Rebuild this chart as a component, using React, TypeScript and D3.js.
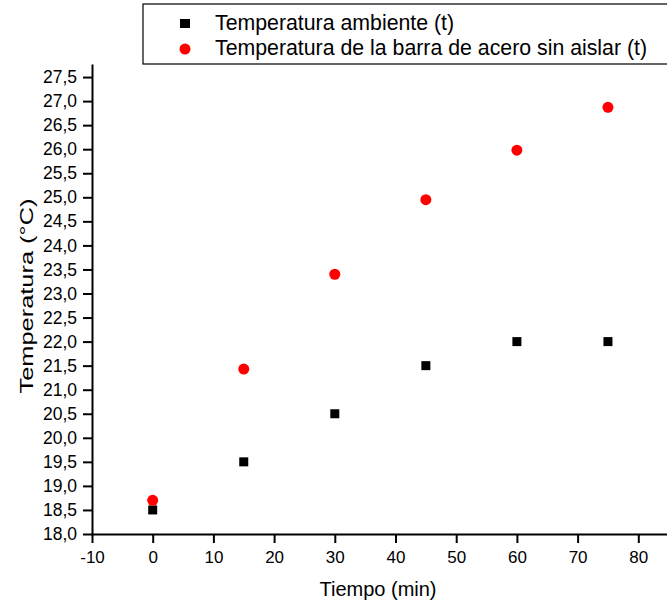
import * as d3 from "d3";
import { useEffect, useRef } from "react";

// datos
const tiempo = [0, 15, 30, 45, 60, 75];
const tempAmbiente = [18.5, 19.5, 20.5, 21.5, 22.0, 22.0];
const tempBarra = [18.7, 21.43, 23.4, 24.95, 25.98, 26.87];
const serieNombres = ["Temperatura ambiente (t)", "Temperatura de la barra de acero sin aislar (t)"];
const xTicks = [-10, 0, 10, 20, 30, 40, 50, 60, 70, 80];
const yTicks = d3.range(18, 27.51, 0.5);

export default function App() {
  const svgRef = useRef<SVGSVGElement | null>(null);
  const W = 667;
  const H = 607;
  const left = 92;
  const bottom = 534;

  function draw() {
    const svg = d3.select(svgRef.current);
    svg.selectAll("*").remove();

    const x = d3.scaleLinear([-10, 85], [left, left + 95 * 6.07]);
    const y = d3.scaleLinear([18, 27.77], [bottom, bottom - 9.77 * 48.1]);
    const fmt = (d: number) => d.toFixed(1).replace(".", ",");
    const font = "Liberation Sans, Arial, sans-serif";

    // eje x
    const gx = svg.append("g").attr("transform", `translate(0,${bottom})`);
    gx.call(d3.axisBottom(x).tickValues(d3.range(-5, 85, 10)).tickSize(5).tickFormat(() => ""));
    gx.call(d3.axisBottom(x).tickValues(xTicks).tickSize(9).tickSizeOuter(0).tickPadding(8).tickFormat((d) => String(d)));
    gx.selectAll("text").attr("font-size", 17).attr("font-family", font).attr("fill", "#000");

    // eje y
    const gy = svg.append("g").attr("transform", `translate(${left},0)`);
    gy.call(d3.axisLeft(y).tickValues(d3.range(18.25, 27.76, 0.5)).tickSize(5).tickFormat(() => ""));
    gy.call(d3.axisLeft(y).tickValues(yTicks).tickSize(9).tickSizeOuter(0).tickPadding(6).tickFormat((d) => fmt(+d)));
    gy.selectAll("text").attr("font-size", 17.5).attr("font-family", font).attr("fill", "#000");

    svg.selectAll(".domain").attr("stroke", "#000").attr("stroke-width", 2);
    svg.selectAll(".tick line").attr("stroke", "#000").attr("stroke-width", 2);

    // titulos
    svg.append("text").attr("x", 378).attr("y", 596).attr("text-anchor", "middle")
      .attr("font-size", 20).attr("font-family", font).text("Tiempo (min)");
    svg.append("text").attr("transform", `translate(33,296) rotate(-90)`).attr("text-anchor", "middle")
      .attr("font-size", 19).attr("font-family", font)
      .attr("textLength", 195).attr("lengthAdjust", "spacingAndGlyphs").text("Temperatura (°C)");

    // puntos
    svg.append("g").selectAll("rect").data(tiempo).join("rect")
      .attr("x", (d) => x(d) - 4.5).attr("y", (d, i) => y(tempAmbiente[i]) - 4.5)
      .attr("width", 9).attr("height", 9).attr("fill", "#000");
    svg.append("g").selectAll("circle").data(tiempo).join("circle")
      .attr("cx", (d) => x(d)).attr("cy", (d, i) => y(tempBarra[i]))
      .attr("r", 5.5).attr("fill", "#ff0000");

    // leyenda
    const lg = svg.append("g");
    lg.append("rect").attr("x", 143).attr("y", 4).attr("width", 540).attr("height", 60)
      .attr("fill", "#fff").attr("stroke", "#000").attr("stroke-width", 1.2);
    lg.append("rect").attr("x", 180).attr("y", 19).attr("width", 10).attr("height", 9).attr("fill", "#000");
    lg.append("circle").attr("cx", 185).attr("cy", 49).attr("r", 5.5).attr("fill", "#ff0000");
    serieNombres.forEach((s, i) => {
      lg.append("text").attr("x", 215).attr("y", 29.5 + i * 25.7)
        .attr("font-size", 21.3).attr("font-family", font).text(s);
    });
  }

  useEffect(draw, []);

  return (
    <svg ref={svgRef} width={W} height={H} style={{ position: "absolute", left: 0, top: 0, background: "#fff" }} />
  );
}
